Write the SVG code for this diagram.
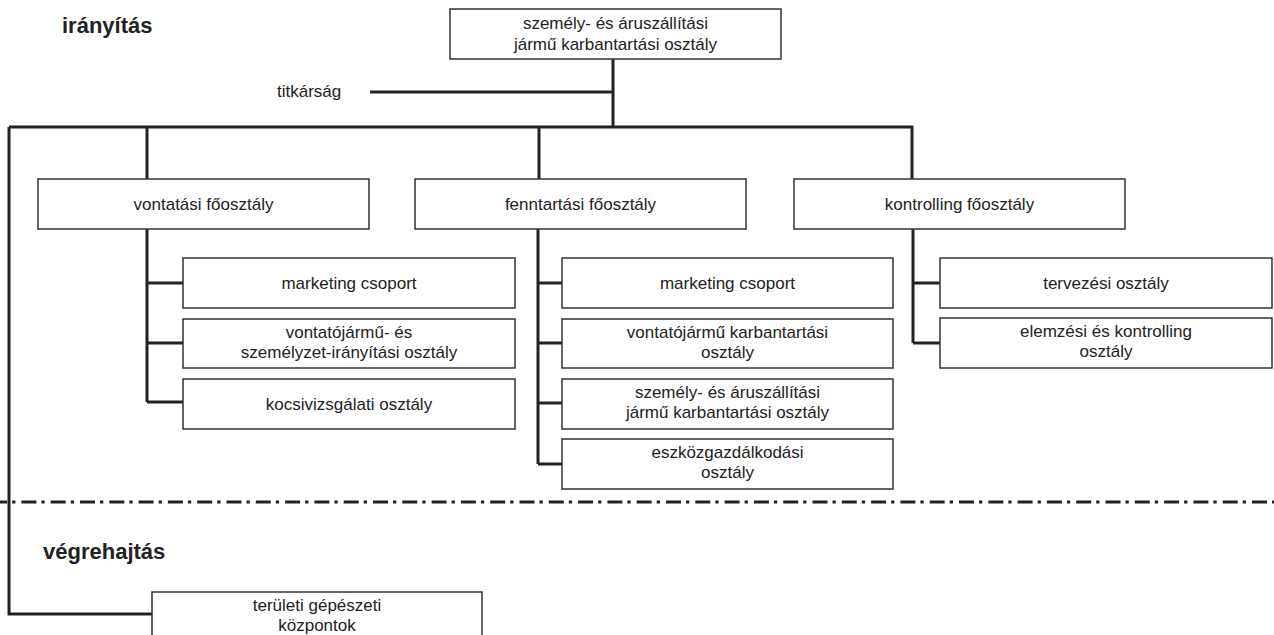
<svg xmlns="http://www.w3.org/2000/svg" width="1274" height="635" viewBox="0 0 1274 635">
<style>
.box{fill:#fff;stroke:#333;stroke-width:1.5}
.t{font-family:"Liberation Sans",Arial,sans-serif;font-size:17px;fill:#222;text-anchor:middle}
.h{font-family:"Liberation Sans",Arial,sans-serif;font-size:22px;font-weight:bold;fill:#222}
.c{fill:none;stroke:#222;stroke-width:3;stroke-linejoin:miter;stroke-linecap:butt}
.dd{fill:none;stroke:#222;stroke-width:3;stroke-dasharray:15 5 3.3 6;stroke-dashoffset:7.9}
</style>
<rect width="1274" height="635" fill="#fff"/>
<g id="labels">
<text class="h" x="62" y="33">irányítás</text>
<text class="h" x="43" y="559">végrehajtás</text>
<text class="t" x="277" y="97" style="text-anchor:start">titkárság</text>
</g>
<line class="dd" x1="0" y1="502" x2="1274" y2="502"/>
<g id="connectors">
<path class="c" d="M613 59V127M370 92H613M9 127H912V179M147 127V179M539 127V179M9 127V614H152"/>
<path class="c" d="M147 229V402M147 283H183M147 343H183M147 402H183"/>
<path class="c" d="M538 229V464M538 283H562M538 343H562M538 403H562M538 464H562"/>
<path class="c" d="M913 229V343M913 283H940M913 343H940"/>
</g>
<g id="n-top"><rect class="box" x="450" y="9" width="331" height="50"/><text class="t" x="615.5" y="29">személy- és áruszállítási</text><text class="t" x="615.5" y="50">jármű karbantartási osztály</text></g>
<g id="n-vontatasi"><rect class="box" x="38" y="179" width="331" height="50"/><text class="t" x="203.5" y="210">vontatási főosztály</text></g>
<g id="n-fenntartasi"><rect class="box" x="415" y="179" width="331" height="50"/><text class="t" x="580.5" y="210">fenntartási főosztály</text></g>
<g id="n-kontrolling"><rect class="box" x="794" y="179" width="331" height="50"/><text class="t" x="959.5" y="210">kontrolling főosztály</text></g>
<g id="n-v1"><rect class="box" x="183" y="258" width="332" height="50"/><text class="t" x="349" y="289">marketing csoport</text></g>
<g id="n-v2"><rect class="box" x="183" y="319" width="332" height="49"/><text class="t" x="349" y="338">vontatójármű- és</text><text class="t" x="349" y="358">személyzet-irányítási osztály</text></g>
<g id="n-v3"><rect class="box" x="183" y="379" width="332" height="50"/><text class="t" x="349" y="410">kocsivizsgálati osztály</text></g>
<g id="n-f1"><rect class="box" x="562" y="258" width="331" height="50"/><text class="t" x="727.5" y="289">marketing csoport</text></g>
<g id="n-f2"><rect class="box" x="562" y="319" width="331" height="49"/><text class="t" x="727.5" y="338">vontatójármű karbantartási</text><text class="t" x="727.5" y="358">osztály</text></g>
<g id="n-f3"><rect class="box" x="562" y="379" width="331" height="50"/><text class="t" x="727.5" y="398">személy- és áruszállítási</text><text class="t" x="727.5" y="418">jármű karbantartási osztály</text></g>
<g id="n-f4"><rect class="box" x="562" y="439" width="331" height="50"/><text class="t" x="727.5" y="458">eszközgazdálkodási</text><text class="t" x="727.5" y="478">osztály</text></g>
<g id="n-k1"><rect class="box" x="940" y="258" width="332" height="50"/><text class="t" x="1106" y="289">tervezési osztály</text></g>
<g id="n-k2"><rect class="box" x="940" y="318" width="332" height="50"/><text class="t" x="1106" y="337">elemzési és kontrolling</text><text class="t" x="1106" y="357">osztály</text></g>
<g id="n-teruleti"><rect class="box" x="152" y="592" width="330" height="50"/><text class="t" x="317" y="611">területi gépészeti</text><text class="t" x="317" y="631">központok</text></g>
</svg>
